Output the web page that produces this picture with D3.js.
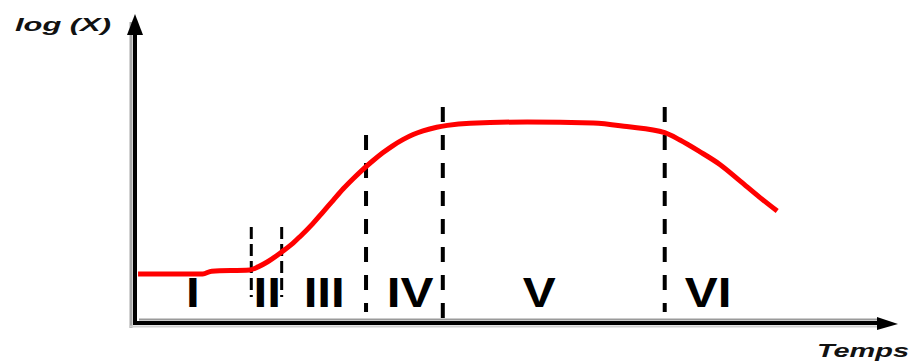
<!DOCTYPE html>
<html>
<head>
<meta charset="utf-8">
<script src="https://cdn.jsdelivr.net/npm/d3@7"></script>
<style>
  html, body { margin: 0; padding: 0; background: #fff; }
  svg { display: block; }
</style>
</head>
<body>
<div id="chart"></div>
<script>
// Bacterial growth curve: log(X) against time, split into six phases.

// Curve samples: time (arbitrary units) and log(X) (arbitrary units)
const curveTime = [0.4, 8.9, 10.1, 15.1, 16.2, 17.4, 19.3, 20.8, 21.7, 23.4, 24.7, 26.1, 27.4,
  28.7, 30.0, 31.3, 32.6, 33.9, 35.3, 36.6, 37.9, 39.7, 41.1, 44.1, 51.6, 60.3, 64.7, 69.7,
  71.7, 74.3, 77.0, 79.6, 82.2, 84.5];
const curveLogX = [1.61, 1.61, 1.70, 1.74, 1.84, 2.00, 2.33, 2.62, 2.83, 3.26, 3.63, 4.03, 4.40,
  4.73, 5.04, 5.32, 5.58, 5.81, 6.02, 6.18, 6.30, 6.42, 6.48, 6.55, 6.59, 6.56, 6.44, 6.24,
  6.00, 5.62, 5.19, 4.66, 4.12, 3.67];

// Phase boundaries (time) and the log(X) span of each dashed marker
const boundaryTime = [15.3, 19.3, 30.4, 40.5, 69.7];
const boundaryTop = [3.15, 3.15, 6.16, 7.08, 7.08];
const boundaryBottom = [0.85, 0.85, 0.36, 0.16, 0.36];
const boundaryMinor = [true, true, false, false, false];

// Phase names and where each one sits along the time axis
const phaseLabels = ["I", "II", "III", "IV", "V", "VI"];
const phaseTime = [7.6, 17.4, 24.9, 36.2, 53.2, 75.4];

const yAxisTitle = "log (X)";
const xAxisTitle = "Temps";

const width = 912, height = 362;

const x = d3.scaleLinear().domain([0, 100]).range([135, 895]);
const y = d3.scaleLinear().domain([0, 10]).range([323, 18]);

const svg = d3.select("#chart").append("svg")
  .attr("width", width).attr("height", height);

// --- axes with shadow and arrowheads ---
const axes = svg.append("g");
const x0 = x(0), y0 = y(0);

// vertical axis
axes.append("line").attr("x1", x0 - 4).attr("x2", x0 - 4).attr("y1", 22).attr("y2", y0 + 5)
  .attr("stroke", "#a8a8a8").attr("stroke-width", 3);
axes.append("line").attr("x1", x0).attr("x2", x0).attr("y1", 30).attr("y2", y0 + 2)
  .attr("stroke", "#000").attr("stroke-width", 4);
axes.append("path")
  .attr("d", d3.line()([[x0 - 8, 35], [x0, 14], [x0 + 8, 35]]) + "Z")
  .attr("fill", "#000");

// horizontal axis
axes.append("line").attr("x1", x0 + 4).attr("x2", 878).attr("y1", y0 - 3.5).attr("y2", y0 - 3.5)
  .attr("stroke", "#9a9a9a").attr("stroke-width", 2);
axes.append("line").attr("x1", x0 - 6).attr("x2", 880).attr("y1", y0 + 3.5).attr("y2", y0 + 3.5)
  .attr("stroke", "#cfcfcf").attr("stroke-width", 2);
axes.append("line").attr("x1", x0 - 2).attr("x2", 880).attr("y1", y0).attr("y2", y0)
  .attr("stroke", "#000").attr("stroke-width", 4);
axes.append("path")
  .attr("d", d3.line()([[877, y0 - 6], [898, y0 + 1], [877, y0 + 7]]) + "Z")
  .attr("fill", "#000");

// --- phase boundary markers ---
svg.append("g").selectAll("line")
  .data(boundaryTime.map((t, i) => ({ t, top: boundaryTop[i], bottom: boundaryBottom[i], minor: boundaryMinor[i] })))
  .join("line")
  .attr("x1", d => x(d.t)).attr("x2", d => x(d.t))
  .attr("y1", d => y(d.top)).attr("y2", d => y(d.bottom))
  .attr("stroke", "#000")
  .attr("stroke-width", d => d.minor ? 3 : 4)
  .attr("stroke-dasharray", d => d.minor ? "12,5" : "15,13");

// --- growth curve ---
const pts = curveTime.map((t, i) => [t, curveLogX[i]]);
svg.append("path")
  .datum(pts)
  .attr("fill", "none")
  .attr("stroke", "#ff0000")
  .attr("stroke-width", 5)
  .attr("stroke-linejoin", "round")
  .attr("d", d3.line().x(d => x(d[0])).y(d => y(d[1])).curve(d3.curveMonotoneX));

// --- phase labels ---
svg.append("g").selectAll("text")
  .data(phaseLabels.map((l, i) => ({ l, t: phaseTime[i] })))
  .join("text")
  .attr("transform", d => `translate(${x(d.t)},${y(0.52)}) scale(1.15,1)`)
  .attr("text-anchor", "middle")
  .attr("font-family", "'Liberation Sans', Arial, sans-serif")
  .attr("font-weight", "bold")
  .attr("font-size", 43)
  .attr("fill", "#000")
  .text(d => d.l);

// --- axis titles ---
svg.append("text")
  .attr("x", 15).attr("y", 31)
  .attr("font-family", "'Liberation Sans', Arial, sans-serif")
  .attr("font-weight", "bold").attr("font-style", "italic")
  .attr("font-size", 19)
  .attr("textLength", 96).attr("lengthAdjust", "spacingAndGlyphs")
  .attr("fill", "#111")
  .text(yAxisTitle);

svg.append("text")
  .attr("x", 817).attr("y", 357)
  .attr("font-family", "'Liberation Sans', Arial, sans-serif")
  .attr("font-weight", "bold").attr("font-style", "italic")
  .attr("font-size", 18)
  .attr("textLength", 92).attr("lengthAdjust", "spacingAndGlyphs")
  .attr("fill", "#111")
  .text(xAxisTitle);
</script>
</body>
</html>
